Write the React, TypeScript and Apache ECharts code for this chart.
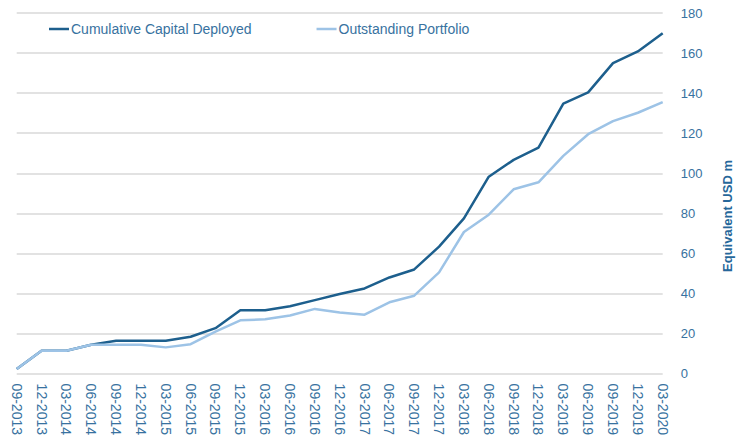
import React, { useEffect, useRef } from "react";
import * as echarts from "echarts";

const categories = [
  "09-2013", "12-2013", "03-2014", "06-2014", "09-2014", "12-2014", "03-2015",
  "06-2015", "09-2015", "12-2015", "03-2016", "06-2016", "09-2016", "12-2016",
  "03-2017", "06-2017", "09-2017", "12-2017", "03-2018", "06-2018", "09-2018",
  "12-2018", "03-2019", "06-2019", "09-2019", "12-2019", "03-2020",
];

const cumulativeCapital = [
  2.3, 11.4, 11.4, 14.4, 16.4, 16.4, 16.4, 18.4, 22.7, 31.6, 31.6, 33.6, 36.7,
  39.7, 42.5, 48, 52, 63.4, 77.5, 98.3, 106.7, 112.8, 134.8, 140.4, 155, 160.8,
  169.9,
];

const outstandingPortfolio = [
  2.3, 11.4, 11.4, 14.4, 14.4, 14.4, 13.1, 14.7, 21, 26.6, 27.1, 29, 32.3, 30.5,
  29.4, 35.6, 38.9, 50.5, 70.7, 79.3, 92, 95.5, 108.7, 119.5, 126, 130.2, 135.5,
];

const seriesNames = ["Cumulative Capital Deployed", "Outstanding Portfolio"];
const axisTitle = "Equivalent USD m";

const FONT = "'Liberation Sans', Arial, sans-serif";
const TEXT_COLOR = "#3872A0";
const DARK = "#1D5F8D";
const LIGHT = "#9DC3E6";

export default function App() {
  const ref = useRef<HTMLDivElement>(null);

  useEffect(() => {
    if (!ref.current) return;
    const chart = echarts.init(ref.current, undefined, { renderer: "svg" });
    chart.setOption({
      animation: false,
      backgroundColor: "#ffffff",
      grid: { left: 16.7, right: 81.3, top: 13, bottom: 62.3, containLabel: false },
      legend: {
        left: 44,
        top: 17,
        icon: "rect",
        itemWidth: 20,
        itemHeight: 2.5,
        itemGap: 65,
        textStyle: { fontFamily: FONT, fontSize: 14, color: TEXT_COLOR, padding: [0, 0, 0, -3] },
        data: seriesNames,
      },
      xAxis: {
        type: "category",
        data: categories,
        boundaryGap: false,
        axisLine: { show: false },
        axisTick: { show: false },
        axisLabel: {
          interval: 0,
          rotate: -90,
          margin: 10,
          fontFamily: FONT,
          fontSize: 14,
          color: TEXT_COLOR,
        },
        splitLine: { show: false },
      },
      yAxis: {
        type: "value",
        position: "right",
        min: 0,
        max: 180,
        interval: 20,
        axisLine: { show: false },
        axisTick: { show: false },
        axisLabel: { margin: 18, fontFamily: FONT, fontSize: 13, color: TEXT_COLOR },
        splitLine: { lineStyle: { color: "#D9D9D9", width: 1.5 } },
      },
      graphic: [
        {
          type: "text",
          x: 727,
          y: 216,
          rotation: Math.PI / 2,
          style: {
            text: axisTitle,
            fontFamily: FONT,
            fontSize: 13,
            fontWeight: "bold",
            fill: "#26679A",
            align: "center",
            verticalAlign: "middle",
          },
        },
      ],
      series: [
        {
          name: seriesNames[0],
          type: "line",
          data: cumulativeCapital,
          showSymbol: false,
          symbol: "none",
          color: DARK,
          lineStyle: { color: DARK, width: 2.5 },
        },
        {
          name: seriesNames[1],
          type: "line",
          data: outstandingPortfolio,
          showSymbol: false,
          symbol: "none",
          color: LIGHT,
          lineStyle: { color: LIGHT, width: 2.5 },
        },
      ],
    });
    return () => chart.dispose();
  }, []);

  return (
    <div
      ref={ref}
      style={{ position: "fixed", left: 0, top: 0, width: 744, height: 438 }}
    />
  );
}
